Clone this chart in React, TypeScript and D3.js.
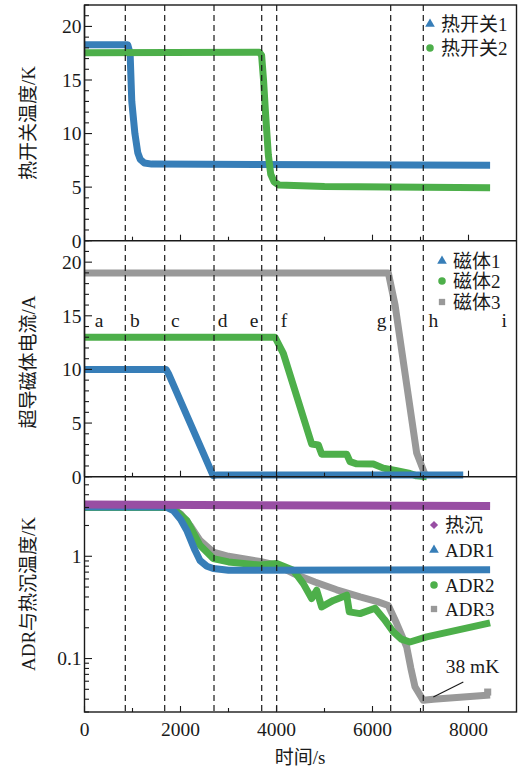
import * as d3 from 'd3'

type Pt = [number, number]

// 热开关温度 (K)
const switch1: Pt[] = [[0, 18.3], [900, 18.3], [950, 17.5], [985, 13], [1050, 10], [1110, 8.2], [1160, 7.6], [1250, 7.25], [1400, 7.15], [8450, 7.05]]
const switch2: Pt[] = [[0, 17.55], [3640, 17.6], [3690, 17.3], [3730, 15], [3770, 12], [3830, 8], [3880, 6.2], [3950, 5.5], [4050, 5.2], [5000, 5.05], [8450, 4.95]]

// 超导磁体电流 (A)
const magnet1: Pt[] = [[0, 10], [1700, 10], [1750, 9.6], [2680, 0.1], [2750, 0.15], [7890, 0.15]]
const magnet2: Pt[] = [[0, 13], [3970, 13], [4142, 11.5], [4733, 3.05], [4872, 2.95], [4941, 2.1], [5462, 2.1], [5531, 1.4], [5670, 1.2], [6017, 1.18], [6225, 0.8], [6504, 0.55], [6781, 0.3], [6920, 0.08], [7130, 0.0]]
const magnet3: Pt[] = [[0, 19], [6330, 19], [6470, 16], [6920, 2.2], [7094, 0.2]]

// ADR 与热沉温度 (K)
const heatSink: Pt[] = [[0, 3.2], [8450, 3.1]]
const adr1: Pt[] = [[0, 3.03], [1700, 3.03], [1850, 2.8], [2000, 2.3], [2129, 1.8], [2300, 1.15], [2406, 0.91], [2550, 0.8], [2683, 0.76], [3000, 0.73], [8450, 0.74]]
const adr2: Pt[] = [[0, 3.0], [1750, 3.0], [1900, 2.8], [2129, 2.25], [2406, 1.28], [2683, 0.95], [3000, 0.88], [3656, 0.82], [4004, 0.85], [4350, 0.73], [4558, 0.54], [4733, 0.386], [4837, 0.465], [4941, 0.32], [5184, 0.37], [5462, 0.416], [5517, 0.286], [5740, 0.275], [6052, 0.31], [6250, 0.24], [6434, 0.182], [6600, 0.155], [6781, 0.145], [7129, 0.163], [8450, 0.223]]
const adr3: Pt[] = [[0, 3.0], [1800, 3.0], [2000, 2.6], [2200, 2.0], [2406, 1.43], [2683, 1.1], [3000, 1.0], [3656, 0.89], [4004, 0.82], [4350, 0.68], [4800, 0.56], [5254, 0.47], [5740, 0.4], [6100, 0.36], [6330, 0.33], [6504, 0.22], [6712, 0.13], [6800, 0.08], [6885, 0.053], [7058, 0.039], [7267, 0.04], [8450, 0.044]]

// 阶段分界线与标签
const stageLines = [850, 1671, 2698, 3692, 4004, 6379, 7058]
const stageNames = ['a', 'b', 'c', 'd', 'e', 'f', 'g', 'h', 'i']
const stageLabelX = [302, 1052, 1892, 2875, 3531, 4156, 6191, 7266, 8745]
const stageLabelY = 13.95

const annotation = { text: '38 mK', from: [7267, 0.042] as Pt, to: [7892, 0.059] as Pt }

const BLUE = '#377eb8'
const GREEN = '#4daf4a'
const GRAY = '#999999'
const PURPLE = '#984ea3'
const INK = '#1a1a1a'
const FONT = "'Liberation Serif', 'Noto Sans CJK SC', serif"

const W = 521
const H = 770
const x = d3.scaleLinear().domain([0, 9000]).range([84.5, 516.5])
const yTop = d3.scaleLinear().domain([0, 22]).range([240.7, 5])
const yMid = d3.scaleLinear().domain([0, 22]).range([476.7, 240.7])
const yBot = d3.scaleLog().domain([0.03, 6]).range([712, 476.7])

type YScale = (v: number) => number

function Series({ data, y, color, width = 7 }: { data: Pt[]; y: YScale; color: string; width?: number }) {
  const line = d3.line<Pt>().x((d) => x(d[0])).y((d) => y(d[1]))
  return <path d={line(data) || ''} fill="none" stroke={color} strokeWidth={width} strokeLinejoin="round" />
}

const shapes = {
  triangle: d3.symbolTriangle,
  circle: d3.symbolCircle,
  square: d3.symbolSquare,
  diamond: d3.symbolSquare,
}

function Legend({ items, x0, ys }: { items: { label: string; color: string; shape: keyof typeof shapes }[]; x0: number; ys: number[] }) {
  return (
    <g>
      {items.map((it, i) => (
        <g key={it.label} transform={`translate(${x0},${ys[i]})`}>
          <path
            d={d3.symbol(shapes[it.shape], it.shape === 'circle' ? 44 : it.shape === 'diamond' ? 34 : 40)() || ''}
            transform={it.shape === 'diamond' ? 'rotate(45)' : undefined}
            fill={it.color}
          />
          <text x={11} dy="0.35em" fontSize={19} fill={INK}>{it.label}</text>
        </g>
      ))}
    </g>
  )
}

function LinearYAxis({ y, top, bottom }: { y: d3.ScaleLinear<number, number>; top: number; bottom: number }) {
  const minor = d3.range(0, 23, 1)
  const major = [0, 5, 10, 15, 20]
  return (
    <g>
      {minor.map((v) => (
        <line key={'m' + v} x1={x(0)} x2={x(0) + (v % 5 === 0 ? 7.5 : 4.5)} y1={y(v)} y2={y(v)} stroke={INK} strokeWidth={1.1} />
      ))}
      {major.map((v) => (
        <text key={v} x={81.5} y={y(v)} dy="0.35em" textAnchor="end" fontSize={19.5} fill={INK}>{v}</text>
      ))}
      <line x1={x(0)} x2={x(0)} y1={top} y2={bottom} stroke={INK} strokeWidth={1.4} />
    </g>
  )
}

function XTicks({ yPos, labels }: { yPos: number; labels: boolean }) {
  const ticks = d3.range(0, 9000, 1000)
  return (
    <g>
      {ticks.map((t) => (
        <line key={t} x1={x(t)} x2={x(t)} y1={yPos} y2={yPos - (t % 2000 === 0 ? 6 : 4)} stroke={INK} strokeWidth={1.1} />
      ))}
      {labels &&
        ticks.filter((t) => t % 2000 === 0).map((t) => (
          <text key={'l' + t} x={x(t)} y={729.5} dy="0.35em" textAnchor="middle" fontSize={19.5} fill={INK}>{t}</text>
        ))}
    </g>
  )
}

export default function App() {
  const logTicks = yBot.ticks()
  return (
    <svg width={W} height={H} style={{ position: 'absolute', left: 0, top: 0, background: '#fff' }} fontFamily={FONT}>
      <rect width={W} height={H} fill="#fff" />

      {/* 上图：热开关温度 */}
      <Series data={switch1} y={yTop} color={BLUE} />
      <Series data={switch2} y={yTop} color={GREEN} />

      {/* 中图：磁体电流 */}
      <Series data={magnet3} y={yMid} color={GRAY} />
      <Series data={magnet2} y={yMid} color={GREEN} />
      <Series data={magnet1} y={yMid} color={BLUE} />

      {/* 下图：ADR 温度 */}
      <Series data={adr3} y={yBot} color={GRAY} />
      <Series data={adr2} y={yBot} color={GREEN} />
      <Series data={adr1} y={yBot} color={BLUE} />
      <Series data={heatSink} y={yBot} color={PURPLE} width={8} />
      <path d={d3.symbol(d3.symbolSquare, 50)() || ''} transform={`translate(${x(8400)},${yBot(0.047)})`} fill={GRAY} />

      {/* 分界虚线 */}
      {stageLines.map((t) => (
        <line key={t} x1={x(t)} x2={x(t)} y1={5} y2={712} stroke={INK} strokeWidth={1.2} strokeDasharray="6,4" />
      ))}
      {stageNames.map((s, i) => (
        <text key={s} x={x(stageLabelX[i])} y={yMid(stageLabelY)} textAnchor="middle" fontSize={19.5} fill={INK}>{s}</text>
      ))}

      {/* 边框 */}
      <rect x={x(0)} y={5} width={x(9000) - x(0)} height={712 - 5} fill="none" stroke={INK} strokeWidth={1.4} />
      <line x1={x(0)} x2={x(9000)} y1={240.7} y2={240.7} stroke={INK} strokeWidth={1.4} />
      <line x1={x(0)} x2={x(9000)} y1={476.7} y2={476.7} stroke={INK} strokeWidth={1.4} />

      <LinearYAxis y={yTop} top={5} bottom={240.7} />
      <LinearYAxis y={yMid} top={240.7} bottom={476.7} />
      <g>
        {logTicks.map((v) => {
          const isMajor = Math.abs(Math.log10(v) - Math.round(Math.log10(v))) < 1e-6
          return (
            <g key={v}>
              <line x1={x(0)} x2={x(0) + (isMajor ? 7.5 : 4.5)} y1={yBot(v)} y2={yBot(v)} stroke={INK} strokeWidth={1.1} />
              {isMajor && (
                <text x={81.5} y={yBot(v)} dy="0.35em" textAnchor="end" fontSize={19.5} fill={INK}>{v < 1 ? '0.1' : String(v)}</text>
              )}
            </g>
          )
        })}
      </g>

      <XTicks yPos={240.7} labels={false} />
      <XTicks yPos={476.7} labels={false} />
      <XTicks yPos={712} labels={true} />

      {/* 标注 */}
      <line x1={x(annotation.from[0])} y1={yBot(annotation.from[1])} x2={x(annotation.to[0])} y2={yBot(annotation.to[1])} stroke={INK} strokeWidth={1.2} />
      <text x={472.5} y={673} textAnchor="middle" fontSize={19.5} fill={INK}>{annotation.text}</text>

      {/* 图例 */}
      <Legend x0={430} ys={[24, 48]} items={[
        { label: '热开关1', color: BLUE, shape: 'triangle' },
        { label: '热开关2', color: GREEN, shape: 'circle' },
      ]} />
      <Legend x0={442} ys={[261, 281, 302]} items={[
        { label: '磁体1', color: BLUE, shape: 'triangle' },
        { label: '磁体2', color: GREEN, shape: 'circle' },
        { label: '磁体3', color: GRAY, shape: 'square' },
      ]} />
      <Legend x0={434} ys={[525, 550, 585, 609]} items={[
        { label: '热沉', color: PURPLE, shape: 'diamond' },
        { label: 'ADR1', color: BLUE, shape: 'triangle' },
        { label: 'ADR2', color: GREEN, shape: 'circle' },
        { label: 'ADR3', color: GRAY, shape: 'square' },
      ]} />

      {/* 轴标题 */}
      <text transform="translate(28,123) rotate(-90)" textAnchor="middle" dy="0.35em" fontSize={19} fill={INK}>热开关温度/K</text>
      <text transform="translate(28,362) rotate(-90)" textAnchor="middle" dy="0.35em" fontSize={19} fill={INK}>超导磁体电流/A</text>
      <text transform="translate(28,594) rotate(-90)" textAnchor="middle" dy="0.35em" fontSize={19} fill={INK}>ADR与热沉温度/K</text>
      <text x={300} y={757} dy="0.35em" textAnchor="middle" fontSize={19} fill={INK}>时间/s</text>
    </svg>
  )
}
